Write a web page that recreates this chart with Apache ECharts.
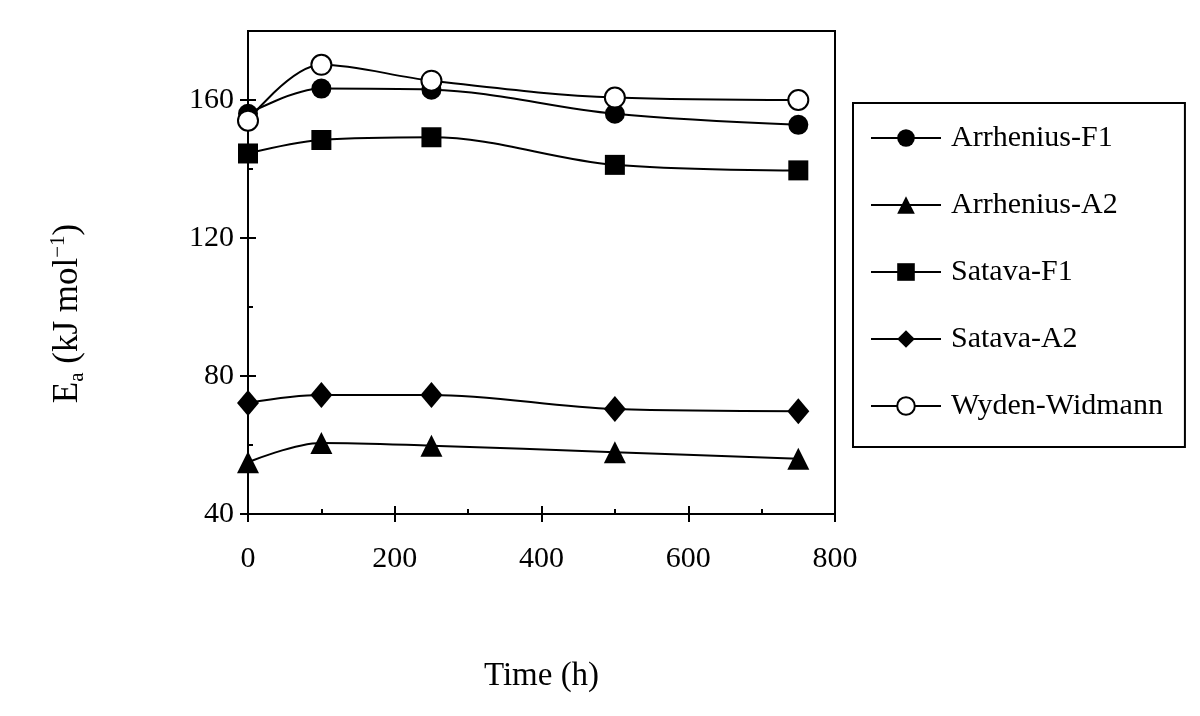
<!DOCTYPE html>
<html>
<head>
<meta charset="utf-8">
<script src="https://cdn.jsdelivr.net/npm/echarts@6/dist/echarts.min.js"></script>
<style>
html,body{margin:0;padding:0;background:#fff;}
#c{width:1200px;height:716px;}
</style>
</head>
<body>
<div id="c"></div>
<script>
var times = [0, 100, 250, 500, 750];
var arrheniusF1 = [156, 163.3, 163, 156, 152.8];
var arrheniusA2 = [55, 60.6, 59.8, 57.9, 56];
var satavaF1 = [144.5, 148.4, 149.2, 141.2, 139.6];
var satavaA2 = [72.2, 74.5, 74.5, 70.4, 69.8];
var wydenWidmann = [154, 170.2, 165.6, 160.7, 160];
var seriesNames = ['Arrhenius-F1', 'Arrhenius-A2', 'Satava-F1', 'Satava-A2', 'Wyden-Widmann'];
var xTicks = [0, 200, 400, 600, 800];
var yTicks = [40, 80, 120, 160];

function pairs(vals) { return times.map(function (t, i) { return [t, vals[i]]; }); }

var FONT = '"Liberation Serif", "Times New Roman", serif';

function mkSeries(name, vals, symbol, size, fill) {
  return {
    name: name, type: 'line', data: pairs(vals), smooth: 0.35,
    symbol: symbol, symbolSize: size,
    xAxisIndex: 0, yAxisIndex: 0,
    lineStyle: { color: '#000', width: 2 },
    itemStyle: { color: fill, borderColor: '#000', borderWidth: fill === '#fff' ? 2 : 0 },
    emphasis: { disabled: true },
    z: 3
  };
}

function xAx(extra) {
  return Object.assign({
    type: 'value', min: 0, max: 800, interval: 200, position: 'bottom',
    axisLine: { show: false }, splitLine: { show: false },
    axisLabel: { show: false }
  }, extra);
}
function yAx(extra) {
  return Object.assign({
    type: 'value', min: 40, max: 180, interval: 40, position: 'left',
    axisLine: { show: false }, splitLine: { show: false },
    axisLabel: { show: false }
  }, extra);
}

var chart = echarts.init(document.getElementById('c'));
chart.setOption({
  animation: false,
  backgroundColor: '#fff',
  grid: { left: 248, right: 365, top: 31, bottom: 202, show: true, borderColor: '#000', borderWidth: 2, backgroundColor: 'transparent' },
  legend: {
    data: seriesNames, orient: 'vertical', left: 853, top: 103,
    borderColor: '#000', borderWidth: 2, padding: [19, 22, 25, 17],
    itemWidth: 70, itemHeight: 22, itemGap: 35,
    textStyle: { fontFamily: FONT, fontSize: 30, color: '#000', lineHeight: 32, padding: [0, 0, 0, 5] }
  },
  xAxis: [
    xAx({
      axisLine: { show: true, lineStyle: { color: '#000', width: 2 } },
      axisTick: { show: true, inside: false, length: 8, lineStyle: { color: '#000', width: 2 } },
      axisLabel: { show: true, margin: 30, fontFamily: FONT, fontSize: 30, color: '#000',
        formatter: function (v) { return xTicks.indexOf(v) >= 0 ? String(v) : ''; } },
      name: 'Time (h)', nameLocation: 'middle', nameGap: 146,
      nameTextStyle: { fontFamily: FONT, fontSize: 33, color: '#000' }
    }),
    xAx({ axisTick: { show: true, inside: true, length: 8, lineStyle: { color: '#000', width: 2 } } }),
    xAx({ interval: 100, axisTick: { show: true, inside: true, length: 5, lineStyle: { color: '#000', width: 2 } } })
  ],
  yAxis: [
    yAx({
      axisLine: { show: true, lineStyle: { color: '#000', width: 2 } },
      axisTick: { show: true, inside: false, length: 8, lineStyle: { color: '#000', width: 2 } },
      axisLabel: { show: true, margin: 14, fontFamily: FONT, fontSize: 30, color: '#000', showMaxLabel: false,
        formatter: function (v) { return yTicks.indexOf(v) >= 0 ? String(v) : ''; } },
      name: '{n|E}{sub|a}{n| (kJ mol}{sup|−1}{n|)}', nameLocation: 'middle', nameGap: 160,
      nameTextStyle: {
        fontFamily: FONT, color: '#000', padding: [0, 82, 0, 0],
        rich: {
          n: { fontFamily: FONT, fontSize: 35, color: '#000', lineHeight: 40 },
          sub: { fontFamily: FONT, fontSize: 21, color: '#000', lineHeight: 40, verticalAlign: 'bottom' },
          sup: { fontFamily: FONT, fontSize: 21, color: '#000', lineHeight: 40, verticalAlign: 'top' }
        }
      }
    }),
    yAx({ axisTick: { show: true, inside: true, length: 8, lineStyle: { color: '#000', width: 2 } } }),
    yAx({ interval: 20, axisTick: { show: true, inside: true, length: 5, lineStyle: { color: '#000', width: 2 } } })
  ],
  series: [
    mkSeries(seriesNames[0], arrheniusF1, 'circle', 20, '#000'),
    mkSeries(seriesNames[1], arrheniusA2, 'triangle', 22, '#000'),
    mkSeries(seriesNames[2], satavaF1, 'rect', 20, '#000'),
    mkSeries(seriesNames[3], satavaA2, 'diamond', [22, 26], '#000'),
    mkSeries(seriesNames[4], wydenWidmann, 'circle', 20, '#fff')
  ]
});
</script>
</body>
</html>
